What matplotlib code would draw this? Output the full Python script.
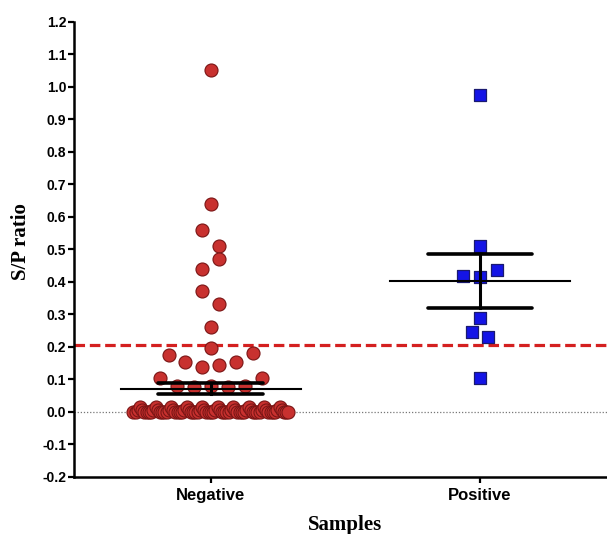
import numpy as np
import matplotlib
matplotlib.use('Agg')
from matplotlib import pyplot as plt

# S/P ratio values (row order left -> right)
groups = ['Negative', 'Positive']

negative = [1.05, 0.64, 0.56, 0.51, 0.44, 0.47, 0.37, 0.33, 0.26, 0.195,
            0.175, 0.153, 0.137, 0.143, 0.153, 0.18,
            0.104, 0.08, 0.075, 0.08, 0.075, 0.08, 0.104,
            # crowded band around zero
            0.00, 0.00, 0.005, 0.015, 0.005, 0.00, 0.00, 0.00,
            0.00, 0.005, 0.015, 0.005, 0.00, 0.00, 0.00, 0.00,
            0.005, 0.015, 0.005, 0.00, 0.00, 0.00, 0.00, 0.005,
            0.015, 0.005, 0.00, 0.00, 0.00, 0.00, 0.005, 0.015,
            0.005, 0.00, 0.00, 0.00, 0.00, 0.005, 0.015, 0.005,
            0.00, 0.00, 0.00, 0.00, 0.005, 0.015, 0.005, 0.00,
            0.00, 0.00, 0.00, 0.005, 0.015, 0.005, 0.00, 0.00,
            0.00, 0.00, 0.005, 0.015, 0.005, 0.00, 0.00, 0.00,
            0.00, 0.005, 0.015, 0.005, 0.00, 0.00, 0.00]
positive = [0.974, 0.51, 0.417, 0.414, 0.435, 0.288, 0.245, 0.23, 0.104]

cutoff = 0.205
yticks = np.round(np.arange(-0.2, 1.21, 0.1), 1)


def scatter_x(values, center, step=0.063, half_max=0.288, bin_h=0.0625):
    # GraphPad style: group values into rows, spread each row around center
    values = np.asarray(values)
    xs = np.zeros(len(values))
    rows = np.floor(values / bin_h)
    for r in np.unique(rows):
        idx = np.where(rows == r)[0]
        n = len(idx)
        s = step
        if n > 1 and (n - 1) * step / 2 > half_max:
            s = 2 * half_max / (n - 1)
        xs[idx] = center + (np.arange(n) - (n - 1) / 2) * s
    return xs


fig = plt.figure(figsize=(6.07, 5.34), dpi=100)
ax = fig.add_axes([0.1227, 0.1073, 0.8773, 0.8521])

ax.axhline(0, color='#777777', lw=0.9, ls=(0, (1, 1.5)), zorder=1)

neg_x = scatter_x(negative, 0)
pos_x = scatter_x(positive, 1)
ax.scatter(neg_x, negative, s=88, marker='o', color='#C8312F',
           edgecolor='#7A1515', linewidth=0.8, zorder=3)
ax.scatter(pos_x, positive, s=80, marker='s', color='#1414E6',
           edgecolor='#1A1A70', linewidth=0.9, zorder=3)

ax.axhline(cutoff, color='#D42020', lw=2.3, dashes=(3.3, 1.5), zorder=2)

# mean +- SEM
for i, vals in enumerate([negative, positive]):
    v = np.asarray(vals)
    m = v.mean()
    sem = v.std(ddof=1) / np.sqrt(len(v))
    ax.plot([i - 0.335, i + 0.335], [m, m], color='black', lw=1.5, zorder=4)
    ax.plot([i - 0.195, i + 0.195], [m + sem, m + sem], color='black', lw=2.6,
            solid_capstyle='round', zorder=4)
    ax.plot([i - 0.195, i + 0.195], [m - sem, m - sem], color='black', lw=2.6,
            solid_capstyle='round', zorder=4)
    ax.plot([i, i], [m - sem, m + sem], color='black', lw=2.2, zorder=4)

ax.set_xlim(-0.507, 1.472)
ax.set_ylim(-0.2, 1.2)
ax.set_yticks(yticks)
ax.set_yticklabels(['%.1f' % t for t in yticks], fontfamily='Liberation Sans',
                   fontweight='bold', fontsize=10)
ax.set_xticks([0, 1])
ax.set_xticklabels(groups, fontfamily='Liberation Sans', fontweight='bold',
                   fontsize=12)
ax.tick_params(axis='both', direction='out', length=4, width=1.6, pad=2)
ax.tick_params(axis='x', pad=4)

for side in ['top', 'right']:
    ax.spines[side].set_visible(False)
for side in ['left', 'bottom']:
    ax.spines[side].set_linewidth(1.8)

ax.set_ylabel('S/P ratio', fontfamily='Liberation Serif', fontweight='bold',
              fontsize=15, va='center')
ax.yaxis.set_label_coords(-0.1, 0.516)
ax.set_xlabel('Samples', fontfamily='Liberation Serif', fontweight='bold',
              fontsize=15, va='center')
ax.xaxis.set_label_coords(0.508, -0.106)

fig.savefig('out.png', dpi=100)
